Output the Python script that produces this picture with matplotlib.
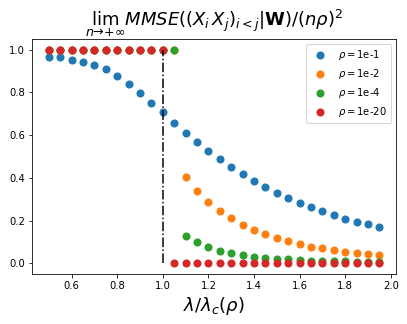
import matplotlib
matplotlib.use("Agg")
import matplotlib.pyplot as plt

# lambda / lambda_c grid
x_all = [0.5, 0.55, 0.6, 0.65, 0.7, 0.75, 0.8, 0.85, 0.9, 0.95, 1.0,
         1.05, 1.1, 1.15, 1.2, 1.25, 1.3, 1.35, 1.4, 1.45, 1.5,
         1.55, 1.6, 1.65, 1.7, 1.75, 1.8, 1.85, 1.9, 1.95]

mmse_rho_1e1 = [0.967, 0.963, 0.953, 0.944, 0.927, 0.907, 0.878, 0.840, 0.799, 0.752,
                0.706, 0.657, 0.611, 0.567, 0.524, 0.487, 0.451, 0.417, 0.386, 0.358,
                0.330, 0.306, 0.284, 0.264, 0.245, 0.227, 0.209, 0.195, 0.183, 0.169]
mmse_rho_1e2 = [1.0, 1.0, 1.0, 1.0, 1.0, 1.0, 1.0, 1.0, 1.0, 1.0,
                1.0, 1.0, 0.406, 0.340, 0.288, 0.247, 0.211, 0.181, 0.157, 0.136,
                0.119, 0.104, 0.090, 0.079, 0.070, 0.062, 0.054, 0.048, 0.043, 0.037]
mmse_rho_1e4 = [1.0, 1.0, 1.0, 1.0, 1.0, 1.0, 1.0, 1.0, 1.0, 1.0,
                1.0, 1.0, 0.126, 0.098, 0.076, 0.060, 0.047, 0.037, 0.031, 0.026,
                0.022, 0.019, 0.015, 0.013, 0.012, 0.010, 0.009, 0.008, 0.007, 0.006]
mmse_rho_1e20 = [1.0, 1.0, 1.0, 1.0, 1.0, 1.0, 1.0, 1.0, 1.0, 1.0,
                 1.0, 0.0, 0.0, 0.0, 0.0, 0.0, 0.0, 0.0, 0.0, 0.0,
                 0.0, 0.0, 0.0, 0.0, 0.0, 0.0, 0.0, 0.0, 0.0, 0.0]

series = [
    (mmse_rho_1e1, r"$\rho=$1e-1", "#1f77b4"),
    (mmse_rho_1e2, r"$\rho=$1e-2", "#ff7f0e"),
    (mmse_rho_1e4, r"$\rho=$1e-4", "#2ca02c"),
    (mmse_rho_1e20, r"$\rho=$1e-20", "#d62728"),
]

fig = plt.figure(figsize=(407 / 72, 324 / 72), dpi=72)
ax = fig.add_axes([0.079, 0.154, 0.894, 0.726])

for ys, label, color in series:
    ax.scatter(x_all, ys, s=50, color=color, label=label)

# transition point lambda = lambda_c
ax.vlines(1.0, 0.0, 1.0, colors="black", linestyles="-.", linewidth=1.5)

ax.set_xticks([0.6, 0.8, 1.0, 1.2, 1.4, 1.6, 1.8, 2.0])
ax.set_yticks([0.0, 0.2, 0.4, 0.6, 0.8, 1.0])
ax.tick_params(labelsize=10)
ax.set_xlabel(r"$\lambda/\lambda_c(\rho)$", fontsize=18)
ax.set_title(r"$\lim_{n\to+\infty} MMSE((X_iX_j)_{i<j}|\mathbf{W})/(n\rho)^2$",
             fontsize=18)
ax.legend(loc="upper right", fontsize=10)

fig.savefig("out.png", dpi=72)
